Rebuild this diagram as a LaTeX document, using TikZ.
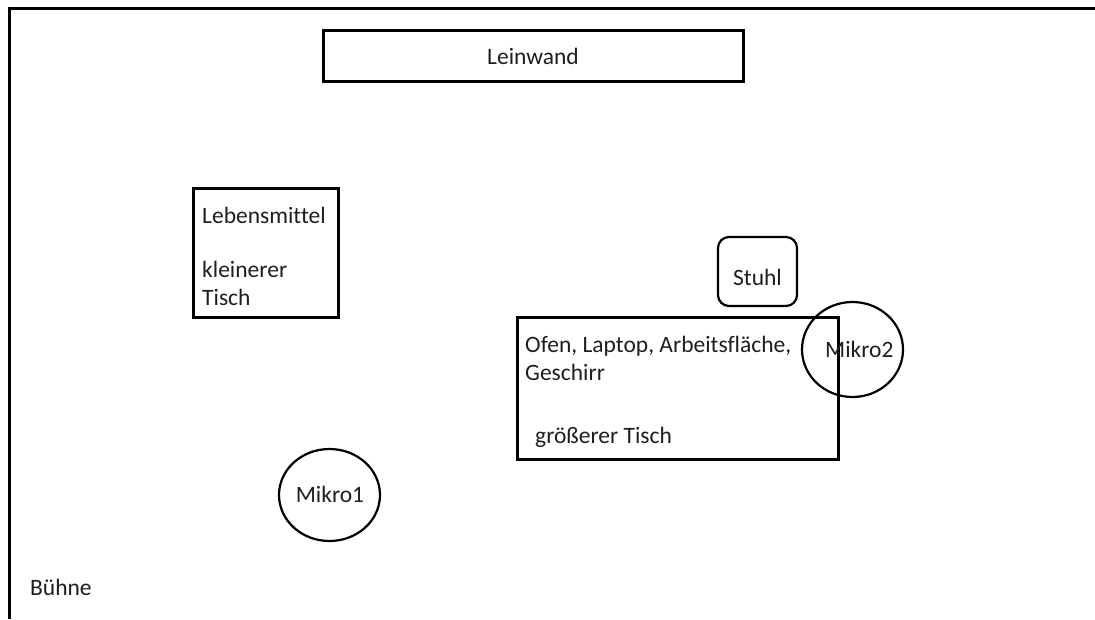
\documentclass[tikz,border=0pt]{standalone}
\usepackage{fontspec}
\setmainfont{Carlito}[Ligatures=NoCommon]
\usetikzlibrary{shapes.geometric}
\definecolor{txt}{HTML}{1E1E1E}
\tikzset{
  box/.style={draw=black, line width=3pt, rectangle, inner sep=0pt},
  mic/.style={draw=black, line width=2.2pt, ellipse, inner sep=0pt, font=\fontsize{23.5}{27.5}\selectfont, text=txt},
  lbl/.style={inner sep=0pt, font=\fontsize{23.5}{27.5}\selectfont, text=txt},
}
\begin{document}
\begin{tikzpicture}[x=1pt,y=-1pt]
\useasboundingbox (0,0) rectangle (1095,619);
% outer frame (stage)
\coordinate (fb) at (9,619);
\coordinate (ftl) at (9,8);
\coordinate (fr) at (1095,8);
\draw[line width=3pt] (fb) -- (ftl) -- (fr);
% Leinwand
\node[box, minimum width=420pt, minimum height=51pt, lbl, draw, line width=3pt] (lw) at (533,56) {Leinwand};
% small table
\node[box, minimum width=145pt, minimum height=129pt] (st) at (265.5,252.5) {};
\node[lbl, anchor=base west] (st1) at (202,223) {Lebensmittel};
\node[lbl, anchor=base west] (st2) at (202,277) {kleinerer};
\node[lbl, anchor=base west] (st3) at (202,305) {Tisch};
% chair
\node[draw=black, line width=2.2pt, rounded corners=11pt, minimum width=79pt, minimum height=69pt, lbl] (chair) at (757.5,271.5) {};
\node[lbl, anchor=base] (chairt) at (757.5,285) {Stuhl};
% big table
\node[box, minimum width=321pt, minimum height=142pt] (bt) at (677.5,388) {};
\node[lbl, anchor=base west] (bt1) at (525,352) {Ofen, Laptop, Arbeitsfläche,};
\node[lbl, anchor=base west] (bt2) at (525,380) {Geschirr};
\node[lbl, anchor=base west] (bt3) at (535,443) {größerer Tisch};
% microphones
\node[mic, minimum width=101pt, minimum height=95pt] (m2) at (852.5,349.5) {};
\node[lbl, anchor=base west] (m2t) at (825,357) {Mikro2};
\node[mic, minimum width=101pt, minimum height=92pt] (m1) at (329.5,495) {};
\node[lbl, anchor=base] (m1t) at (330,502) {Mikro1};
% stage label
\node[lbl, anchor=base west] (buehne) at (30,595) {Bühne};
\end{tikzpicture}
\end{document}
